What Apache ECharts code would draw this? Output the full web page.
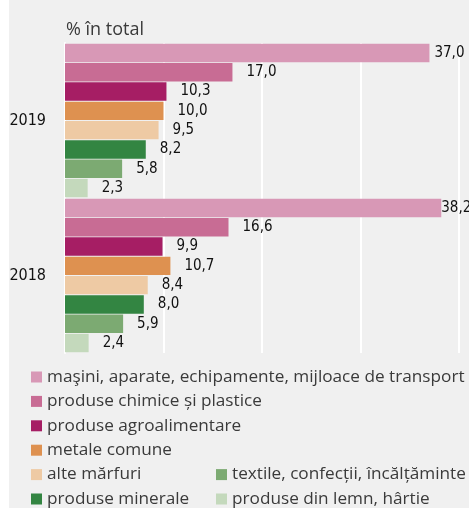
<!DOCTYPE html>
<html>
<head>
<meta charset="utf-8">
<script src="https://cdn.jsdelivr.net/npm/echarts@6/dist/echarts.min.js"></script>
<style>
  html, body { margin: 0; padding: 0; background: #fff; }
  #chart { width: 469px; height: 508px; }
</style>
</head>
<body>
<div id="chart"></div>
<script>
// categories (top to bottom)
let years = ['2019', '2018'];

// grupe de marfuri, in the order the bars are stacked inside a year
let groups = [
  'maşini, aparate, echipamente, mijloace de transport',
  'produse chimice și plastice',
  'produse agroalimentare',
  'metale comune',
  'alte mărfuri',
  'produse minerale',
  'textile, confecții, încălțăminte',
  'produse din lemn, hârtie'
];

// % in total, [2019, 2018]
let masini = [37.0, 38.2];
let chimice = [17.0, 16.6];
let agro = [10.3, 9.9];
let metale = [10.0, 10.7];
let alte = [9.5, 8.4];
let minerale = [8.2, 8.0];
let textile = [5.8, 5.9];
let lemn = [2.3, 2.4];

let values = [masini, chimice, agro, metale, alte, minerale, textile, lemn];
let colors = ['#d898b6', '#c86c94', '#a61e64', '#de9150', '#eecaa4', '#338542', '#7caa72', '#c4d9bc'];

// legend split in two columns like the original
let legendCol1 = groups.slice(0, 6);
let legendCol2 = groups.slice(6);

let narrow = "'Liberation Sans Narrow', 'DejaVu Sans Condensed', sans-serif";
let plain = "'Open Sans', 'Noto Sans', sans-serif";

function fmt(v) {
  return v.toFixed(1).replace('.', ',');
}

// the longest bars have their labels squeezed against the right edge
let labelTweak = {0: [{distance: 5}, {distance: 0}]};

let series = groups.map(function (name, i) {
  let data = values[i].map(function (v, j) {
    let item = {value: v};
    if (labelTweak[i]) {
      item.label = labelTweak[i][j];
    }
    return item;
  });
  return {
    name: name,
    type: 'bar',
    data: data,
    barGap: '5%',
    barCategoryGap: '1%',
    itemStyle: {color: colors[i]},
    label: {
      show: true,
      position: 'right',
      distance: 14,
      color: '#111111',
      fontFamily: narrow,
      fontSize: 15,
      formatter: function (p) {
        return fmt(p.value);
      }
    },
    emphasis: {disabled: true}
  };
});

let legendBase = {
  orient: 'vertical',
  icon: 'rect',
  itemWidth: 11,
  itemHeight: 11,
  itemGap: 4.4,
  padding: 0,
  height: 200,
  selectedMode: false,
  textStyle: {
    fontFamily: plain,
    fontSize: 17.2,
    lineHeight: 20,
    color: '#3a3a3a'
  }
};

let option = {
  backgroundColor: '#ffffff',
  animation: false,
  graphic: [
    {
      type: 'rect',
      left: 9,
      top: 0,
      z: -10,
      shape: {width: 460, height: 508},
      style: {fill: '#f0f0f0'}
    },
    {
      type: 'text',
      left: 66,
      top: 21,
      style: {
        text: '% în total',
        fill: '#3a3a3a',
        font: '18px ' + plain
      }
    }
  ],
  grid: {
    left: 65,
    top: 43,
    width: 394,
    height: 310
  },
  legend: [
    Object.assign({}, legendBase, {data: legendCol1, left: 31, top: 367}),
    Object.assign({}, legendBase, {data: legendCol2, left: 216, top: 464.6})
  ],
  xAxis: {
    type: 'value',
    min: 0,
    max: 40,
    interval: 10,
    axisLabel: {show: false},
    axisLine: {show: false},
    axisTick: {show: false},
    splitLine: {
      show: true,
      lineStyle: {color: '#ffffff', width: 2}
    }
  },
  yAxis: {
    type: 'category',
    inverse: true,
    data: years,
    axisTick: {show: false},
    axisLine: {
      show: true,
      lineStyle: {color: '#ffffff', width: 2}
    },
    axisLabel: {
      margin: 19,
      color: '#111111',
      fontFamily: narrow,
      fontSize: 16
    }
  },
  series: series
};

let myChart = echarts.init(document.getElementById('chart'));
myChart.setOption(option);
</script>
</body>
</html>
